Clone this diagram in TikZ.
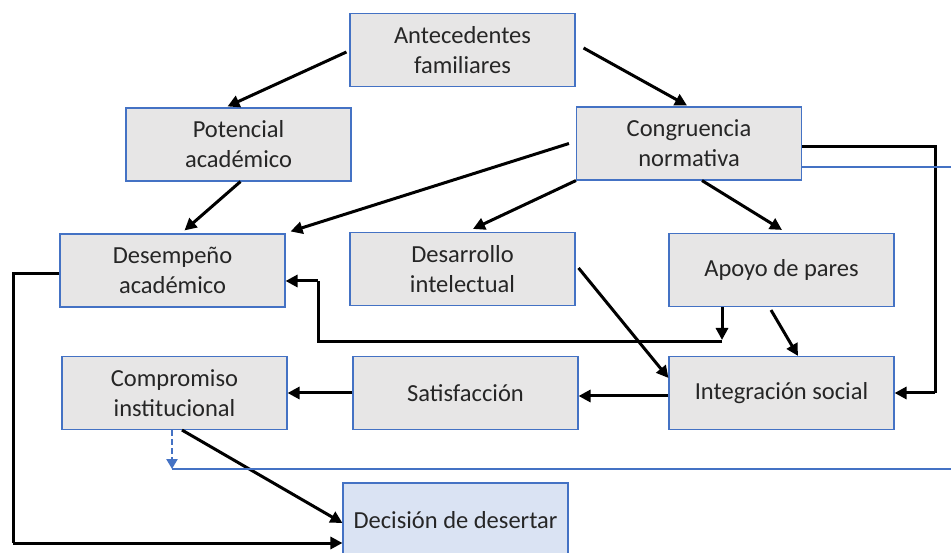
\documentclass[tikz,border=0pt]{standalone}
\usepackage{fontspec}
\setmainfont{Carlito}
\usetikzlibrary{arrows.meta,calc}
\definecolor{boxfill}{HTML}{E7E6E6}
\definecolor{boxline}{HTML}{4472C4}
\definecolor{decfill}{HTML}{DAE3F3}
\tikzset{
  box/.style={draw=boxline, line width=1.1pt, fill=boxfill, minimum width=225pt, minimum height=73pt, inner sep=2pt, align=center, font=\fontsize{24.5}{30}\selectfont, text=black!85},
  arr/.style={draw=black, line width=3pt, -{Triangle[length=12pt,width=12pt]}},
  ln/.style={draw=black, line width=3pt},
  bl/.style={draw=boxline, line width=1.2pt},
}
\begin{document}
\begin{tikzpicture}[x=1pt,y=-1pt]
\useasboundingbox (0,0) rectangle (951,553);
\node[box] (ant) at (462.5,50) {Antecedentes\\familiares};
\node[box] (pot) at (238.5,144.5) {Potencial\\académico};
\node[box] (cong) at (689,143.5) {Congruencia\\normativa};
\node[box] (des) at (172.5,270.5) {Desempeño\\académico};
\node[box] (dint) at (462.5,269) {Desarrollo\\intelectual};
\node[box] (apo) at (781.5,270) {Apoyo de pares};
\node[box] (comp) at (174.5,393) {Compromiso\\institucional};
\node[box] (sat) at (465.5,393) {Satisfacción};
\node[box] (integ) at (781.5,393) {Integración social};
\node[box, fill=decfill, minimum height=80pt] (dec) at (455.5,523) {\raisebox{6pt}{Decisión de desertar}};
% coordinates
\coordinate (c1) at (935,147);
\coordinate (c2) at (935,393);
\coordinate (r1) at (951,167);
\coordinate (r2) at (951,469);
\coordinate (b1) at (172,469);
\coordinate (a1) at (722,342);
\coordinate (a2) at (318,342);
\coordinate (a3) at (318,281);
\coordinate (l1) at (13,274);
\coordinate (l2) at (13,543);
% arrows
\draw[arr] ($(ant.west)+(-3,2)$) -- ($(pot.north)+(-11,-1)$);
\draw[arr] ($(ant.east)+(8,-2)$) -- ($(cong.north)+(-2,-1)$);
\draw[arr] ($(pot.south)+(2,0)$) -- ($(des.north)+(12,-3)$);
\draw[arr] ($(cong.west)+(-7,0)$) -- ($(des.north east)+(5,-2)$);
\draw[arr] (cong.south west) -- ($(dint.north)+(10.5,-3)$);
\draw[arr] ($(cong.south)+(13,0)$) -- ($(apo.north)+(0.5,-3)$);
\draw[ln] ($(cong.east)+(0,3.5)$) -- (c1) -- (c2);
\draw[arr] (c2) -- (integ.east);
\draw[bl] ($(cong.east)+(0,23.5)$) -- (r1);
\draw[arr] ($(dint.east)+(3,-1)$) -- ($(integ.west)+(0,-15)$);
\draw[arr] ($(apo.south)+(-59.5,0)$) -- ($(a1)+(0,-2)$);
\draw[ln] (a1) -- (a2) -- (a3);
\draw[arr] (a3) -- ($(des.east)+(0,10.5)$);
\draw[arr] ($(apo.south)+(-10.5,3)$) -- ($(integ.north)+(16.5,0)$);
\draw[arr] ($(integ.west)+(0,3)$) -- ($(sat.east)+(0,3)$);
\draw[arr] (sat.west) -- (comp.east);
\draw[arr] ($(comp.south)+(7.5,0)$) -- ($(dec.west)+(0,0)$);
\draw[bl] (b1) -- (r2);
\draw[draw=boxline, line width=2.5pt, dash pattern=on 6pt off 3pt, -{Triangle[length=10pt,width=11pt]}] ($(comp.south)+(-2.5,0)$) -- (b1);
\draw[ln] ($(des.west)+(0,3.5)$) -- (l1) -- (l2);
\draw[arr] (l2) -- ($(dec.west)+(0,20)$);
\end{tikzpicture}
\end{document}
